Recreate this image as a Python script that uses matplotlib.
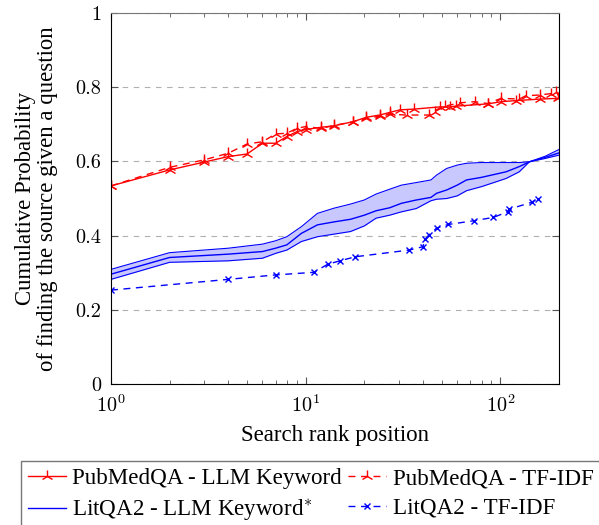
import numpy as np
import matplotlib
matplotlib.use('Agg')
import matplotlib.pyplot as plt
from matplotlib.ticker import FixedLocator, FuncFormatter, LogLocator

# PubMedQA - LLM Keyword
pm_llm_rank = [1, 2, 3, 4, 5, 6, 7, 8, 9, 10, 12, 14, 17.5, 20.5, 24, 27, 30.5, 36, 49, 55, 59, 86, 101, 121, 160, 197]
pm_llm_val = [0.534, 0.577, 0.598, 0.613, 0.620, 0.649, 0.649, 0.667, 0.680, 0.686, 0.692, 0.696, 0.707, 0.719, 0.725,
              0.732, 0.739, 0.741, 0.747, 0.747, 0.749, 0.755, 0.761, 0.764, 0.768, 0.770]

# PubMedQA - TF-IDF
pm_tfidf_rank = [1, 2, 3, 4, 5, 6, 7, 8, 9, 10, 12, 14, 17.5, 20.5, 24, 27, 33, 43, 46, 52, 62, 74, 86, 101, 125,
                 135, 159, 183, 194, 200]
pm_tfidf_val = [0.534, 0.584, 0.604, 0.622, 0.647, 0.653, 0.674, 0.676, 0.689, 0.694, 0.689, 0.697, 0.707, 0.716,
                0.722, 0.727, 0.725, 0.725, 0.734, 0.749, 0.758, 0.761, 0.756, 0.770, 0.768, 0.777, 0.779, 0.783,
                0.788, 0.774]

# LitQA2 - LLM Keyword (mean with band)
lq_llm_rank = [1, 2, 4, 6, 7, 8, 9.5, 11.5, 14, 17, 20, 23, 27, 31, 37, 44, 47, 53, 60, 67, 80, 107, 125, 141, 170, 200]
lq_llm_upper = [0.309, 0.354, 0.366, 0.377, 0.386, 0.397, 0.424, 0.460, 0.474, 0.485, 0.496, 0.512, 0.525, 0.536,
                0.543, 0.550, 0.563, 0.581, 0.590, 0.595, 0.597, 0.597, 0.597, 0.599, 0.614, 0.632]
lq_llm_mean = [0.296, 0.341, 0.350, 0.357, 0.366, 0.375, 0.406, 0.429, 0.437, 0.444, 0.455, 0.467, 0.475, 0.487,
               0.496, 0.503, 0.514, 0.523, 0.536, 0.550, 0.557, 0.572, 0.586, 0.599, 0.611, 0.623]
lq_llm_lower = [0.282, 0.328, 0.332, 0.339, 0.352, 0.361, 0.384, 0.397, 0.404, 0.411, 0.426, 0.447, 0.455, 0.464,
                0.473, 0.494, 0.498, 0.500, 0.507, 0.521, 0.532, 0.554, 0.572, 0.599, 0.608, 0.617]

# LitQA2 - TF-IDF
lq_tfidf_rank = [1, 4, 7, 11, 13, 15, 18, 34, 40, 41, 43, 47, 54, 73, 92, 109, 111, 145, 156]
lq_tfidf_val = [0.253, 0.282, 0.294, 0.301, 0.323, 0.332, 0.343, 0.361, 0.370, 0.390, 0.402, 0.420, 0.430, 0.440,
                0.449, 0.464, 0.471, 0.490, 0.500]

plt.rcParams['font.family'] = 'Liberation Serif'
plt.rcParams['mathtext.fontset'] = 'cm'

fig = plt.figure(figsize=(5.99, 5.25), dpi=100)
ax = fig.add_axes([0.1853, 0.2686, 0.7479, 0.7066])

ax.plot(pm_llm_rank, pm_llm_val, color='red', lw=1, marker='2', ms=9, mew=1,
        label='PubMedQA - LLM Keyword')
ax.plot(pm_tfidf_rank, pm_tfidf_val, color='red', lw=1, ls=(0, (5, 4)), marker='2', ms=9, mew=1,
        label='PubMedQA - TF-IDF')
ax.fill_between(lq_llm_rank, lq_llm_lower, lq_llm_upper, color='#c8c8ff', lw=0)
ax.plot(lq_llm_rank, lq_llm_upper, color='blue', lw=0.8)
ax.plot(lq_llm_rank, lq_llm_lower, color='blue', lw=0.8)
ax.plot(lq_llm_rank, lq_llm_mean, color='blue', lw=1, label='LitQA2 - LLM Keyword$^{*}$')
ax.plot(lq_tfidf_rank, lq_tfidf_val, color='blue', lw=1, ls=(0, (5, 4)), marker='x', ms=5, mew=1,
        label='LitQA2 - TF-IDF')

ax.set_xscale('log')
ax.set_xlim(1, 200)
ax.set_ylim(0, 1)

ax.yaxis.set_major_locator(FixedLocator([0, 0.2, 0.4, 0.6, 0.8, 1]))
ax.yaxis.set_major_formatter(FuncFormatter(lambda v, p: '%g' % v))
ax.xaxis.set_major_locator(LogLocator(base=10))
ax.xaxis.set_major_formatter(FuncFormatter(lambda v, p: '$10^{%d}$' % round(np.log10(v))))
ax.xaxis.set_minor_locator(LogLocator(base=10, subs=np.arange(2, 10)))
ax.xaxis.set_minor_formatter(FuncFormatter(lambda v, p: ''))
for lbl in ax.get_yticklabels():
    lbl.set_fontfamily('cmr10')

ax.tick_params(which='both', direction='in', top=True, right=True, color='#555555')
ax.tick_params(which='major', length=5, width=0.8, labelsize=14.6)
ax.tick_params(axis='y', pad=7)
ax.tick_params(axis='x', pad=8)
ax.tick_params(which='minor', length=3, width=0.6)
ax.grid(axis='y', which='major', color='#b0b0b0', ls=(0, (5, 5)), lw=0.8)
ax.set_axisbelow(True)
ax.spines['top'].set_color('#777777')

ax.set_xlabel('Search rank position', fontsize=16.5, labelpad=6)
ax.set_ylabel('Cumulative Probability\nof finding the source given a question', fontsize=16.4, linespacing=1.05)
ax.yaxis.set_label_coords(-0.118, 0.5)

handles, labels = ax.get_legend_handles_labels()
order = [0, 2, 1, 3]
fig.legend([handles[i] for i in order], [labels[i] for i in order],
           loc='upper left', bbox_to_anchor=(21 / 599, 1 - 461 / 525), ncol=2, fontsize=16.6,
           frameon=True, fancybox=False, edgecolor='#555555', handlelength=1.65, handletextpad=0.28,
           columnspacing=0.26, labelspacing=0.38, borderpad=0.3, borderaxespad=0)

fig.savefig('out.png', dpi=100)
